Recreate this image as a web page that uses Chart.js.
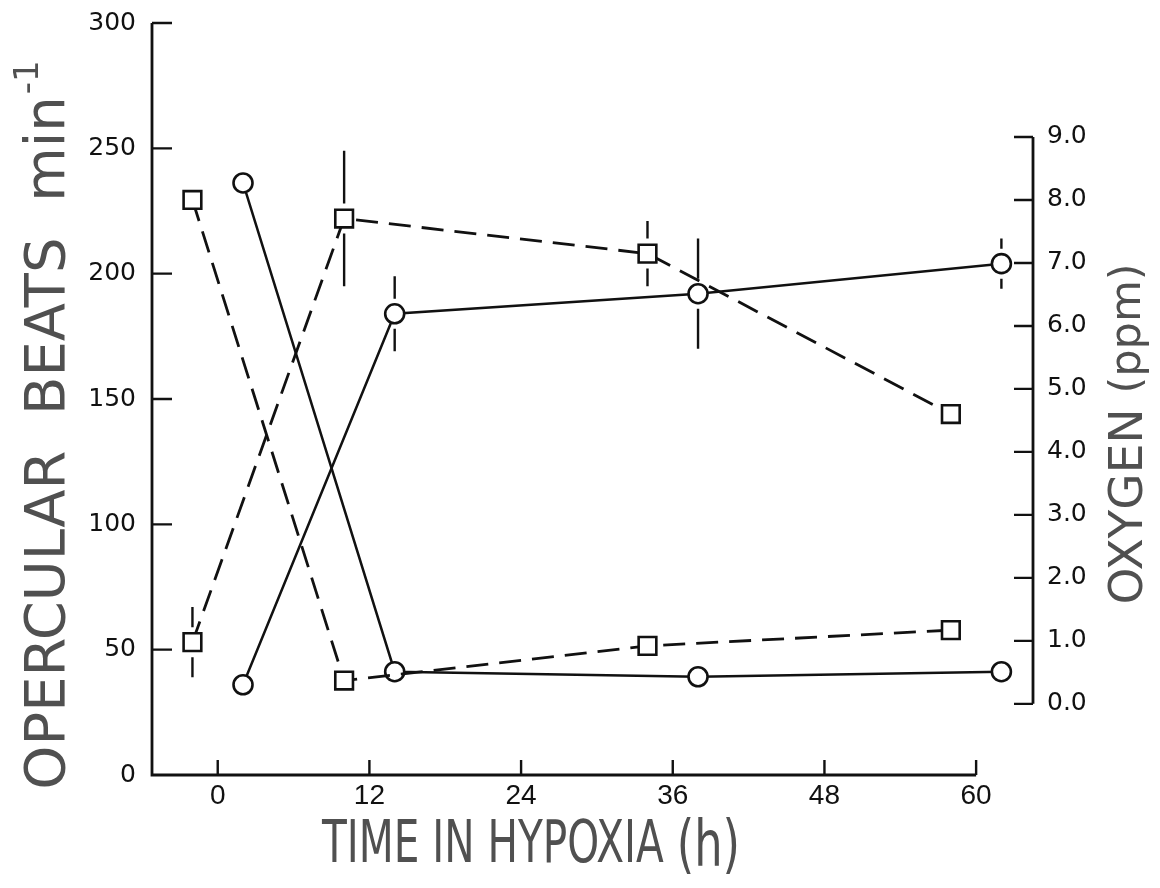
<!DOCTYPE html>
<html>
<head>
<meta charset="utf-8">
<script src="https://cdn.jsdelivr.net/npm/chart.js@4.4.0/dist/chart.umd.min.js"></script>
<style>
  html, body { margin: 0; padding: 0; background: #fff; }
</style>
</head>
<body>
<canvas id="chart" width="1160" height="888"></canvas>
<script>
// ===== DATA =====
const squareTimes = [-2, 10, 34, 58];
const circleTimes = [2, 14, 38, 62];

// opercular beats min-1 (left axis)
const beatsSquares = [53, 222, 208, 144];
const beatsSquaresErr = [14, 27, 13, 0];
const beatsCircles = [36, 184, 192, 204];
const beatsCirclesErr = [0, 15, 22, 10];

// oxygen ppm (right axis)
const oxygenSquares = [8.0, 0.37, 0.92, 1.17];
const oxygenCircles = [8.27, 0.51, 0.43, 0.51];

const timeTicks = [0, 12, 24, 36, 48, 60];
const beatsTicks = [0, 50, 100, 150, 200, 250, 300];
const oxygenTicks = [0, 1, 2, 3, 4, 5, 6, 7, 8, 9];

const xTitle = 'TIME IN HYPOXIA';
const xUnit = '(h)';
const leftTitle = 'OPERCULAR  BEATS  min';
const leftSup = '-1';
const rightTitle = 'OXYGEN';
const rightUnit = '(ppm)';

// ===== STYLE =====
const INK = '#111';
const TITLE_INK = '#505050';
const DASH = [22, 11];

function toPoints(xs, ys) {
    return xs.map((x, i) => ({ x: x, y: ys[i] }));
}

function lineSet(label, xs, ys, axis, square, errors) {
    return {
        label: label,
        data: toPoints(xs, ys),
        yAxisID: axis,
        errors: errors || null,
        borderColor: INK,
        borderWidth: square ? 2.8 : 2.5,
        borderDash: square ? DASH : [],
        pointStyle: square ? 'rect' : 'circle',
        pointRadius: square ? 12.5 : 9.5,
        pointHoverRadius: square ? 12.5 : 9.5,
        pointBorderWidth: 2.6,
        pointBorderColor: INK,
        pointBackgroundColor: '#fff',
        tension: 0,
        fill: false
    };
}

// ===== AXES, TICK MARKS, ERROR BARS, TITLES =====
const figureFrame = {
    id: 'figureFrame',
    afterDatasetsDraw(chart) {
        const { ctx, chartArea: a, scales } = chart;
        const x = scales.x, yb = scales.yBeats, yo = scales.yOxy;
        ctx.save();
        ctx.strokeStyle = INK;
        ctx.lineWidth = 2.8;
        ctx.setLineDash([]);

        // axis lines
        ctx.beginPath();
        ctx.moveTo(a.left, a.top);
        ctx.lineTo(a.left, a.bottom);
        ctx.lineTo(x.getPixelForValue(timeTicks[timeTicks.length - 1]), a.bottom);
        ctx.moveTo(a.right, yo.getPixelForValue(oxygenTicks[0]));
        ctx.lineTo(a.right, yo.getPixelForValue(oxygenTicks[oxygenTicks.length - 1]));
        ctx.stroke();

        // inward tick marks
        ctx.lineWidth = 2.4;
        ctx.beginPath();
        beatsTicks.forEach(v => {
            if (v === 0) return;
            const p = yb.getPixelForValue(v);
            ctx.moveTo(a.left, p);
            ctx.lineTo(a.left + 20, p);
        });
        timeTicks.forEach(v => {
            const p = x.getPixelForValue(v);
            ctx.moveTo(p, a.bottom);
            ctx.lineTo(p, a.bottom - 15);
        });
        oxygenTicks.forEach(v => {
            const p = yo.getPixelForValue(v);
            ctx.moveTo(a.right, p);
            ctx.lineTo(a.right - 19, p);
        });
        ctx.stroke();

        // error bars, broken around the marker
        ctx.lineWidth = 2.4;
        chart.data.datasets.forEach(ds => {
            if (!ds.errors) return;
            const ys = scales[ds.yAxisID];
            const gap = 15;
            ctx.beginPath();
            ds.data.forEach((pt, j) => {
                const e = ds.errors[j];
                if (!e) return;
                const px = x.getPixelForValue(pt.x);
                const pc = ys.getPixelForValue(pt.y);
                const pTop = ys.getPixelForValue(pt.y + e);
                const pBot = ys.getPixelForValue(pt.y - e);
                if (pc - gap > pTop) {
                    ctx.moveTo(px, pTop);
                    ctx.lineTo(px, pc - gap);
                }
                if (pc + gap < pBot) {
                    ctx.moveTo(px, pc + gap);
                    ctx.lineTo(px, pBot);
                }
            });
            ctx.stroke();
        });
        ctx.restore();
    },
    afterDraw(chart) {
        const { ctx } = chart;
        ctx.save();
        ctx.fillStyle = TITLE_INK;
        ctx.textBaseline = 'alphabetic';
        ctx.textAlign = 'left';

        // bottom title: tall condensed lettering, squeezed to the printed width
        const mainFont = "58px 'DejaVu Sans Condensed', 'DejaVu Sans', sans-serif";
        const unitFont = "64px 'DejaVu Sans Condensed', 'DejaVu Sans', sans-serif";
        ctx.font = mainFont;
        const w1 = ctx.measureText(xTitle + ' ').width;
        ctx.font = unitFont;
        const w2 = ctx.measureText(xUnit).width;
        const squeeze = 418 / (w1 + w2);
        ctx.save();
        ctx.translate(322, 862);
        ctx.scale(squeeze, 1);
        ctx.font = mainFont;
        ctx.fillText(xTitle, 0, 0);
        ctx.font = unitFont;
        ctx.fillText(xUnit, w1, 4);
        ctx.restore();

        // left title, reading upwards
        ctx.save();
        ctx.translate(64, 426);
        ctx.rotate(-Math.PI / 2);
        ctx.font = "56px 'DejaVu Sans', sans-serif";
        const lw = ctx.measureText(leftTitle).width;
        ctx.font = "34px 'DejaVu Sans', sans-serif";
        const sw = ctx.measureText(leftSup).width;
        const lx = -(lw + sw) / 2;
        ctx.font = "56px 'DejaVu Sans', sans-serif";
        ctx.fillText(leftTitle, lx, 0);
        ctx.font = "34px 'DejaVu Sans', sans-serif";
        ctx.fillText(leftSup, lx + lw + 2, -26);
        ctx.restore();

        // right title, reading upwards
        ctx.save();
        ctx.translate(1142, 434);
        ctx.rotate(-Math.PI / 2);
        ctx.font = "47px 'DejaVu Sans', sans-serif";
        const rw = ctx.measureText(rightTitle + ' ').width;
        ctx.font = "43px 'DejaVu Sans', sans-serif";
        const uw = ctx.measureText(rightUnit).width;
        const rx = -(rw + uw) / 2;
        ctx.font = "47px 'DejaVu Sans', sans-serif";
        ctx.fillText(rightTitle, rx, 0);
        ctx.font = "43px 'DejaVu Sans', sans-serif";
        ctx.fillText(rightUnit, rx + rw, -2);
        ctx.restore();

        ctx.restore();
    }
};

function fixedBox(size, vertical) {
    return function (scale) {
        if (vertical) scale.width = size; else scale.height = size;
        scale.paddingTop = 0;
        scale.paddingBottom = 0;
        scale.paddingLeft = 0;
        scale.paddingRight = 0;
    };
}

const tickFontY = { family: "'DejaVu Sans', sans-serif", size: 25 };
const tickFontX = { family: "'Liberation Sans', Arial, sans-serif", size: 28 };

new Chart(document.getElementById('chart').getContext('2d'), {
    type: 'line',
    data: {
        datasets: [
            lineSet('Beats (squares)', squareTimes, beatsSquares, 'yBeats', true, beatsSquaresErr),
            lineSet('Oxygen (squares)', squareTimes, oxygenSquares, 'yOxy', true, null),
            lineSet('Beats (circles)', circleTimes, beatsCircles, 'yBeats', false, beatsCirclesErr),
            lineSet('Oxygen (circles)', circleTimes, oxygenCircles, 'yOxy', false, null)
        ]
    },
    options: {
        responsive: false,
        animation: false,
        devicePixelRatio: 1,
        layout: { padding: { top: 23, left: 0, right: 0, bottom: 0 } },
        plugins: {
            legend: { display: false },
            tooltip: { enabled: false }
        },
        scales: {
            x: {
                type: 'linear',
                min: -5.2,
                max: 64.5,
                afterBuildTicks: s => { s.ticks = timeTicks.map(v => ({ value: v })); },
                afterFit: fixedBox(113, false),
                grid: { display: false, drawTicks: false },
                border: { display: false },
                ticks: {
                    padding: 4,
                    color: INK,
                    font: tickFontX,
                    autoSkip: false,
                    maxRotation: 0,
                    callback: v => String(v)
                }
            },
            yBeats: {
                type: 'linear',
                position: 'left',
                min: beatsTicks[0],
                max: beatsTicks[beatsTicks.length - 1],
                afterBuildTicks: s => { s.ticks = beatsTicks.map(v => ({ value: v })); },
                afterFit: fixedBox(152, true),
                grid: { display: false, drawTicks: false },
                border: { display: false },
                ticks: { padding: 16, color: INK, font: tickFontY, callback: v => String(v) }
            },
            yOxy: {
                type: 'linear',
                position: 'right',
                min: -1.13,
                max: 10.81,
                afterBuildTicks: s => { s.ticks = oxygenTicks.map(v => ({ value: v })); },
                afterFit: fixedBox(127, true),
                grid: { display: false, drawTicks: false },
                border: { display: false },
                ticks: { padding: 14, color: INK, font: tickFontY, callback: v => v.toFixed(1) }
            }
        }
    },
    plugins: [figureFrame]
});
</script>
</body>
</html>
